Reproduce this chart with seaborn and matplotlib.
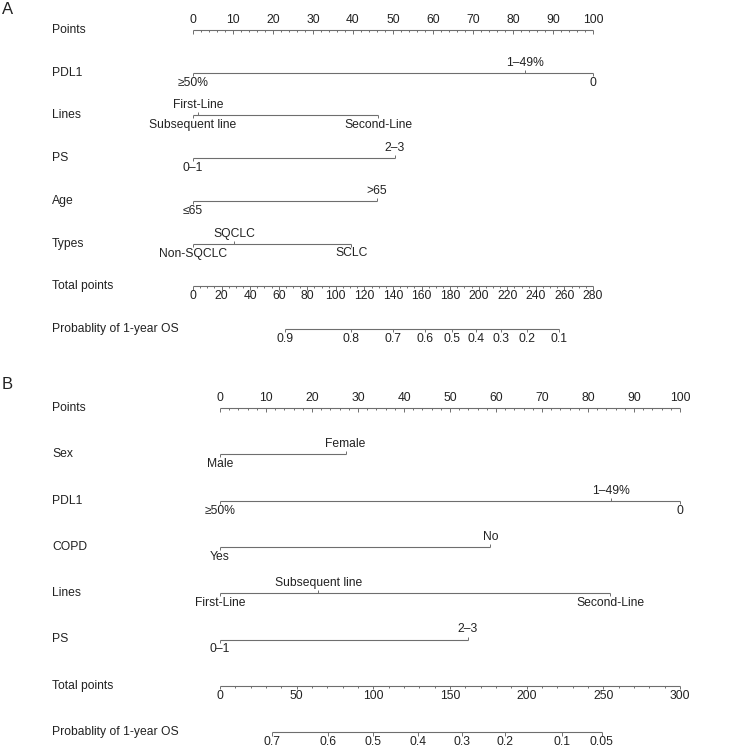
import matplotlib.pyplot as plt
import seaborn as sns

# ---- panel A data ----
a_vars = ["PDL1", "Lines", "PS", "Age", "Types"]
a_levels = [["≥50%", "1–49%", "0"],
            ["Subsequent line", "First-Line", "Second-Line"],
            ["0–1", "2–3"],
            ["≤65", ">65"],
            ["Non-SQCLC", "SQCLC", "SCLC"]]
a_scores = [[0, 83, 100],
            [0, 1.2, 46.3],
            [0, 50.4],
            [0, 46.0],
            [0, 10.3, 39.6]]
a_total_max = 280
a_total_labels = list(range(0, 281, 20))
a_prob_labels = ["0.9", "0.8", "0.7", "0.6", "0.5", "0.4", "0.3", "0.2", "0.1"]
a_prob_total = [64.4, 110.6, 140.0, 162.4, 181.3, 197.8, 215.6, 233.8, 256.0]

# ---- panel B data ----
b_vars = ["Sex", "PDL1", "COPD", "Lines", "PS"]
b_levels = [["Male", "Female"],
            ["≥50%", "1–49%", "0"],
            ["Yes", "No"],
            ["First-Line", "Subsequent line", "Second-Line"],
            ["0–1", "2–3"]]
b_scores = [[0, 27.3],
            [0, 85.0, 100],
            [0, 58.8],
            [0, 21.4, 84.8],
            [0, 53.9]]
b_total_max = 300
b_total_labels = list(range(0, 301, 50))
b_prob_labels = ["0.7", "0.6", "0.5", "0.4", "0.3", "0.2", "0.1", "0.05"]
b_prob_total = [34.1, 70.7, 100.0, 129.3, 157.6, 185.9, 222.8, 248.9]

sns.set_theme(style="white")
plt.rcParams['font.family'] = ['Liberation Sans', 'DejaVu Sans']

LINE = "#6e6e6e"
TXT = "#222222"
FS = 8.7

fig = plt.figure(figsize=(7.29, 7.48), dpi=100)


def draw_panel(ax, letter, vars_, levels, scores, total_max, total_labels,
               total_minor, prob_labels, prob_total, px_row, letter_y):
    px = 1.0 / px_row  # one pixel in row units
    lab_x = 52 / 729
    tr = ax.get_yaxis_transform()  # x in axes fraction, y in data

    def row_label(i, s):
        ax.text(lab_x, i, s, transform=tr, ha="left", va="center",
                fontsize=FS, color=TXT)

    def lbl(x, y, s, up):
        ax.text(x, y - 10 * px if up else y + 10 * px, s, ha="center",
                va="center", fontsize=FS, color=TXT)

    # points row
    row_label(0, "Points")
    ax.hlines(0, 0, 100, color=LINE, lw=0.8)
    for v in range(0, 101, 2):
        ln = 3.5 if v % 10 == 0 else 2.2
        ax.vlines(v, 0, ln * px, color=LINE, lw=0.7)
    for v in range(0, 101, 10):
        lbl(v, 0, str(v), True)

    # variable rows
    for i, (name, lv, sc) in enumerate(zip(vars_, levels, scores), start=1):
        row_label(i, name)
        ax.hlines(i, min(sc), max(sc), color=LINE, lw=0.8)
        order = sorted(range(len(sc)), key=lambda k: sc[k])
        for rank, k in enumerate(order):
            up = rank % 2 == 1
            ax.vlines(sc[k], i, i - 3 * px if up else i + 3 * px,
                      color=LINE, lw=0.7)
            lbl(sc[k], i, lv[k], up)

    # total points
    it = len(vars_) + 1
    row_label(it, "Total points")
    scale = 100.0 / total_max
    ax.hlines(it, 0, 100, color=LINE, lw=0.8)
    for v in range(0, total_max + 1, total_minor):
        major = v in total_labels
        ax.vlines(v * scale, it, it + (3.5 if major else 2.2) * px,
                  color=LINE, lw=0.7)
    for v in total_labels:
        lbl(v * scale, it, str(v), False)

    # probability
    ip = it + 1
    row_label(ip, "Probablity of 1-year OS")
    xs = [t * scale for t in prob_total]
    ax.hlines(ip, min(xs), max(xs), color=LINE, lw=0.8)
    for x, s in zip(xs, prob_labels):
        ax.vlines(x, ip, ip + 3.5 * px, color=LINE, lw=0.7)
        lbl(x, ip, s, False)

    ax.text(2 / 729, letter_y, letter, transform=ax.transAxes, ha="left",
            va="top", fontsize=12, color=TXT)
    ax.set_axis_off()


# panel A: rows every 42.7 px starting at 30 px; 0..100 points = 193..593 px
top_a, bot_a, row0_a, step_a = 0, 372, 30, 42.7
ax_a = fig.add_axes([0, 1 - bot_a / 748, 1, (bot_a - top_a) / 748])
ax_a.set_xlim(-193 / 4.0, (729 - 193) / 4.0)
ax_a.set_ylim((bot_a - row0_a) / step_a, (top_a - row0_a) / step_a)
draw_panel(ax_a, "A", a_vars, a_levels, a_scores, a_total_max,
           a_total_labels, 5, a_prob_labels, a_prob_total, step_a,
           1 - 2 / 372)

# panel B: rows every 46.3 px starting at 408 px; 0..100 points = 220..680 px
top_b, bot_b, row0_b, step_b = 376, 748, 408, 46.3
ax_b = fig.add_axes([0, 1 - bot_b / 748, 1, (bot_b - top_b) / 748])
ax_b.set_xlim(-220 / 4.6, (729 - 220) / 4.6)
ax_b.set_ylim((bot_b - row0_b) / step_b, (top_b - row0_b) / step_b)
draw_panel(ax_b, "B", b_vars, b_levels, b_scores, b_total_max,
           b_total_labels, 10, b_prob_labels, b_prob_total, step_b,
           1 - 1 / 372)

fig.savefig("out.png", dpi=100, facecolor="white")
